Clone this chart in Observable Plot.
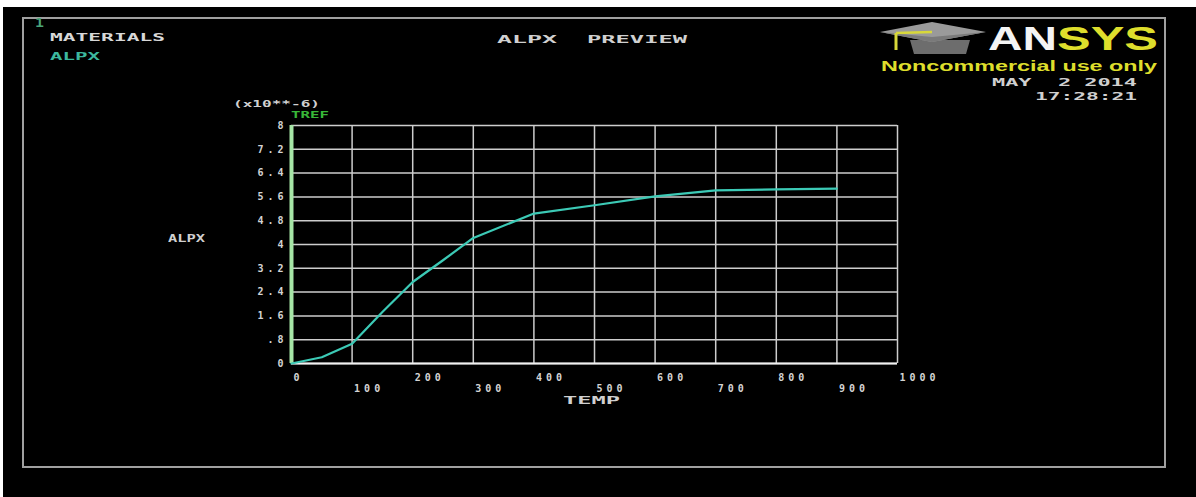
<!DOCTYPE html>
<html><head><meta charset="utf-8">
<script src="https://cdn.jsdelivr.net/npm/d3@7"></script>
<script src="https://cdn.jsdelivr.net/npm/@observablehq/plot@0.6"></script>
<style>
html,body{margin:0;padding:0;background:#fff;width:1196px;height:497px;overflow:hidden;}
#screen{position:absolute;left:3px;top:7px;width:1193px;height:490px;background:#000;}
#border{position:absolute;left:22px;top:17px;width:1144px;height:451px;border:2px solid #a0a0a0;box-sizing:border-box;}
#chart{position:absolute;left:0;top:0;}
.t{position:absolute;font-family:"DejaVu Sans Mono",monospace;font-weight:bold;color:#d4d4d4;font-size:10px;white-space:pre;line-height:1;transform-origin:0 0;display:inline-block;}
.ans text{letter-spacing:4px;}
#logo{position:absolute;left:878px;top:20px;}
</style></head>
<body>
<div id="screen"></div>
<div id="border"></div>
<div id="chart"></div>
<script>
// ---- data ----
const temps = [0, 50, 100, 150, 200, 250, 300, 400, 500, 600, 700, 800, 900];
const alpx  = [0, 0.21, 0.66, 1.73, 2.74, 3.47, 4.22, 5.04, 5.32, 5.62, 5.82, 5.85, 5.88];
const xTicks = [0, 100, 200, 300, 400, 500, 600, 700, 800, 900, 1000];
const yTicks = [0, 0.8, 1.6, 2.4, 3.2, 4, 4.8, 5.6, 6.4, 7.2, 8];
const yTickLabels = ["0", ".8", "1.6", "2.4", "3.2", "4", "4.8", "5.6", "6.4", "7.2", "8"];
const tref = [0];

const data = temps.map((t, i) => ({temp: t, alpx: alpx[i]}));
const yt = yTicks.map((v, i) => ({v, label: yTickLabels[i]}));

const plot = Plot.plot({
  width: 1196, height: 497,
  marginLeft: 291, marginRight: 299, marginTop: 125, marginBottom: 134,
  className: "ans",
  style: {background: "transparent", color: "#d4d4d4", fontFamily: "DejaVu Sans Mono, monospace", fontWeight: "bold", fontSize: "10px"},
  x: {domain: [0, 1000], axis: null},
  y: {domain: [0, 8], axis: null},
  marks: [
    Plot.ruleY(yTicks, {stroke: "#cdcdcd", strokeWidth: 1.5}),
    Plot.ruleX(xTicks, {stroke: "#cdcdcd", strokeWidth: 1.5}),
    Plot.ruleY([0], {stroke: "#f2f2f2", strokeWidth: 2.2}),
    Plot.ruleX(tref, {stroke: "#a6e6a6", strokeWidth: 4}),
    Plot.line(data, {x: "temp", y: "alpx", stroke: "#3ccab6", strokeWidth: 2.2}),
    Plot.text(yt, {x: () => 0, y: "v", text: "label", textAnchor: "end", dx: -4, fill: "#d4d4d4", fontSize: 10}),
    Plot.text(xTicks.filter((d, i) => i % 2 === 0), {x: d => d, y: () => 0, text: d => String(d), textAnchor: "start", dx: 2, dy: 14, fill: "#d4d4d4", fontSize: 10}),
    Plot.text(xTicks.filter((d, i) => i % 2 === 1), {x: d => d, y: () => 0, text: d => String(d), textAnchor: "start", dx: 2, dy: 25, fill: "#d4d4d4", fontSize: 10})
  ]
});
document.getElementById("chart").appendChild(plot);

// ---- annotation text (left, capTop, width, text, color, size) ----
const labels = [
  [35, 19, 9, "1", "#4aa57a", 12],
  [50, 35, 115, "MATERIALS", "#d8d8d8", 10],
  [50, 54, 50, "ALPX", "#3cb89e", 10],
  [497, 37, 60, "ALPX", "#d0d0d0", 10],
  [587, 37, 100, "PREVIEW", "#d0d0d0", 10],
  [233, 102, 87, "(x10**-6)", "#d0d0d0", 9],
  [291, 113, 38, "TREF", "#38b838", 9],
  [168, 236, 37, "ALPX", "#d0d0d0", 10],
  [563, 398, 57, "TEMP", "#d0d0d0", 10],
  [992, 80, 145, "MAY  2 2014", "#d0d0d0", 10],
  [1035, 94, 102, "17:28:21", "#d0d0d0", 10]
];
for (const [x, y, w, txt, col, size] of labels) {
  const el = document.createElement("div");
  el.className = "t";
  el.textContent = txt;
  el.style.color = col;
  el.style.fontSize = size + "px";
  el.style.left = x + "px";
  el.style.top = (y - size * 0.2) + "px";
  document.body.appendChild(el);
  const nat = el.getBoundingClientRect().width;
  el.style.transform = `scaleX(${w / nat})`;
}

// ---- ANSYS logo ----
const logo = document.createElement("div");
logo.id = "logo";
logo.innerHTML = `
<svg width="112" height="36" xmlns="http://www.w3.org/2000/svg">
  <polygon points="32,20 92,20 88,34 36,34" fill="#6d6d6d"/>
  <polygon points="2,12 54,2 108,12 54,22" fill="#9a9a9a"/>
  <polygon points="2,12 54,22 108,12 54,17" fill="#7a7a7a"/>
  <line x1="54" y1="12" x2="18" y2="13" stroke="#d8d83a" stroke-width="2.5"/>
  <line x1="18" y1="13" x2="18" y2="30" stroke="#d8d83a" stroke-width="3"/>
</svg>`;
document.body.appendChild(logo);

function addLogoText(txt, x, top, w, size, color, family) {
  const el = document.createElement("div");
  el.className = "t";
  el.textContent = txt;
  el.style.fontFamily = family;
  el.style.fontSize = size + "px";
  el.style.lineHeight = "1";
  el.style.color = color;
  el.style.left = x + "px";
  el.style.top = top + "px";
  el.style.letterSpacing = "0px";
  document.body.appendChild(el);
  const nat = el.getBoundingClientRect().width;
  el.style.transform = `scaleX(${w / nat})`;
}
addLogoText("AN", 988, 21.5, 69, 33.5, "#f4f4f4", "'Liberation Sans', Arial, sans-serif");
addLogoText("SYS", 1057, 21.5, 101, 33.5, "#dede2c", "'Liberation Sans', Arial, sans-serif");
addLogoText("Noncommercial use only", 881, 58.5, 276, 14, "#dede2c", "'Liberation Sans', Arial, sans-serif");
</script>
</body></html>
